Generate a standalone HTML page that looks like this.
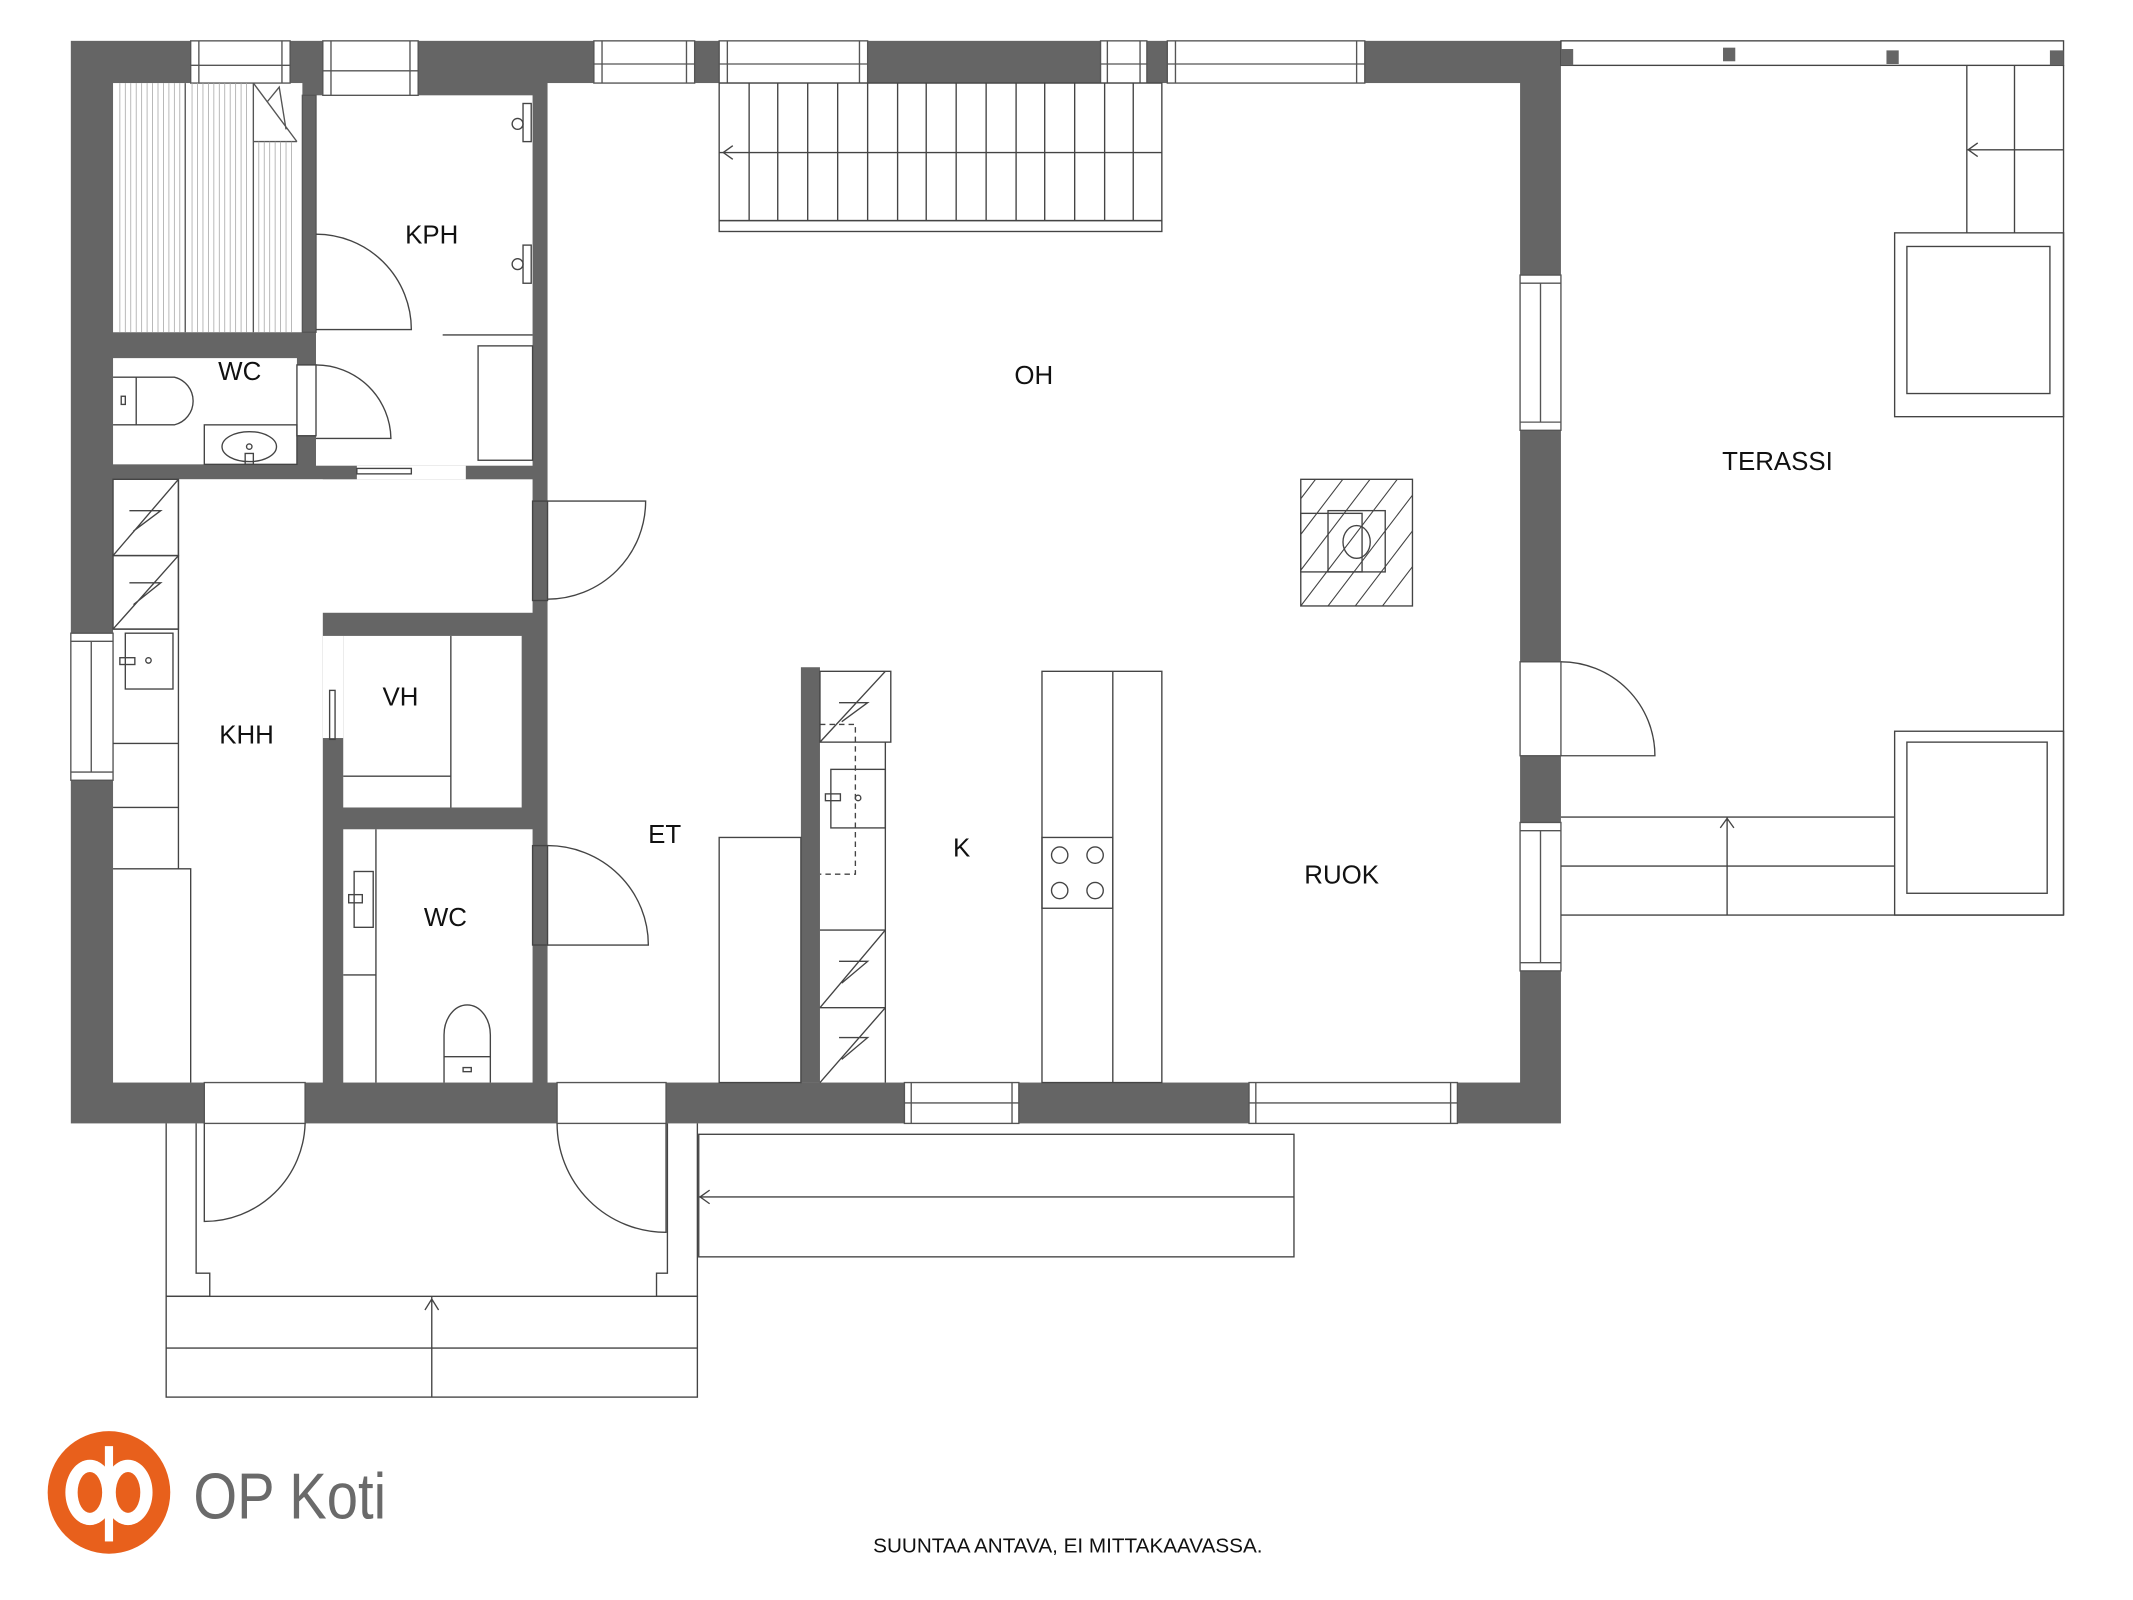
<!DOCTYPE html>
<html><head><meta charset="utf-8">
<style>
html,body{margin:0;padding:0;background:#fff;}
svg{display:block;}
text{font-family:"Liberation Sans",sans-serif;fill:#111;}
</style></head>
<body>
<svg width="2133" height="1600" viewBox="0 0 1566 1175" preserveAspectRatio="none" xmlns="http://www.w3.org/2000/svg">
<rect width="1570" height="1180" fill="#fff"/>
<rect x="52" y="30" width="1094" height="795" fill="#656565"/>
<g fill="#fff">
<rect x="83" y="61" width="139" height="183"/>
<rect x="232" y="70" width="159" height="272"/>
<rect x="83" y="263" width="135" height="78"/>
<rect x="83" y="352" width="308" height="98"/>
<rect x="83" y="352" width="154" height="443"/>
<rect x="252" y="467" width="131" height="126"/>
<rect x="252" y="609" width="139" height="186"/>
<rect x="402" y="61" width="714" height="734"/>
<rect x="218" y="268" width="14" height="52"/>
<rect x="262" y="342" width="80" height="10"/>
<rect x="237" y="467" width="15" height="75"/>
</g>
<rect x="588" y="490" width="14" height="305" fill="#656565"/>
<g fill="none" stroke="#555" stroke-width="1">
<rect x="140" y="30" width="73" height="31" fill="#fff"/><line x1="140" y1="48" x2="213" y2="48"/><line x1="146" y1="30" x2="146" y2="61"/><line x1="207" y1="30" x2="207" y2="61"/>
<rect x="237" y="30" width="70" height="40" fill="#fff"/><line x1="237" y1="52" x2="307" y2="52"/><line x1="243" y1="30" x2="243" y2="70"/><line x1="301" y1="30" x2="301" y2="70"/>
<rect x="436" y="30" width="74" height="31" fill="#fff"/><line x1="436" y1="47" x2="510" y2="47"/><line x1="442" y1="30" x2="442" y2="61"/><line x1="504" y1="30" x2="504" y2="61"/>
<rect x="528" y="30" width="109" height="31" fill="#fff"/><line x1="528" y1="47" x2="637" y2="47"/><line x1="534" y1="30" x2="534" y2="61"/><line x1="631" y1="30" x2="631" y2="61"/>
<rect x="808" y="30" width="34" height="31" fill="#fff"/><line x1="808" y1="47" x2="842" y2="47"/><line x1="813" y1="30" x2="813" y2="61"/><line x1="837" y1="30" x2="837" y2="61"/>
<rect x="857" y="30" width="145" height="31" fill="#fff"/><line x1="857" y1="47" x2="1002" y2="47"/><line x1="863" y1="30" x2="863" y2="61"/><line x1="996" y1="30" x2="996" y2="61"/>
<rect x="1116" y="202" width="30" height="114" fill="#fff"/><line x1="1131" y1="208" x2="1131" y2="310"/><line x1="1116" y1="208" x2="1146" y2="208"/><line x1="1116" y1="310" x2="1146" y2="310"/>
<rect x="1116" y="486" width="30" height="69" fill="#fff"/>
<rect x="1116" y="604" width="30" height="109" fill="#fff"/><line x1="1131" y1="610" x2="1131" y2="707"/><line x1="1116" y1="610" x2="1146" y2="610"/><line x1="1116" y1="707" x2="1146" y2="707"/>
<rect x="52" y="465" width="31" height="108" fill="#fff"/><line x1="67" y1="471" x2="67" y2="567"/><line x1="52" y1="471" x2="83" y2="471"/><line x1="52" y1="567" x2="83" y2="567"/>
<rect x="150" y="795" width="74" height="30" fill="#fff"/>
<rect x="409" y="795" width="80" height="30" fill="#fff"/>
<rect x="664" y="795" width="84" height="30" fill="#fff"/><line x1="664" y1="810" x2="748" y2="810"/><line x1="669" y1="795" x2="669" y2="825"/><line x1="743" y1="795" x2="743" y2="825"/>
<rect x="917" y="795" width="153" height="30" fill="#fff"/><line x1="917" y1="810" x2="1070" y2="810"/><line x1="922" y1="795" x2="922" y2="825"/><line x1="1065" y1="795" x2="1065" y2="825"/>
<line x1="136" y1="61" x2="136" y2="244"/><line x1="186" y1="61" x2="186" y2="244"/><line x1="186" y1="104" x2="218" y2="104"/>
<path d="M186 61 L218 104 M196 75 L205 64 L210 95"/>
<rect x="222" y="70" width="10" height="174"/>
</g>
<g stroke="#aaa" stroke-width="0.6">
<path d="M88 61V244M92 61V244M96 61V244M100 61V244M104 61V244M108 61V244M112 61V244M116 61V244M120 61V244M124 61V244M128 61V244M132 61V244M141 61V244M145 61V244M149 61V244M153 61V244M157 61V244M161 61V244M165 61V244M169 61V244M173 61V244M177 61V244M181 61V244M190 104V244M194 104V244M198 104V244M202 104V244M206 104V244M210 104V244M214 104V244"/>
</g>
<g fill="none" stroke="#444" stroke-width="1">
<path d="M232 172 A70 70 0 0 1 302 242 L232 242"/>
<path d="M232 268 A55 55 0 0 1 287 322 L232 322"/><rect x="218" y="268" width="14" height="52"/>
<line x1="325" y1="246" x2="391" y2="246"/><rect x="351" y="254" width="40" height="84"/>
<rect x="384" y="76" width="6" height="28"/><rect x="384" y="180" width="6" height="28"/>
<circle cx="380" cy="91" r="4"/><circle cx="380" cy="194" r="4"/>
<path d="M83 277 H128 A18 18 0 0 1 128 312 H83"/><line x1="100" y1="277" x2="100" y2="312"/><rect x="89" y="291" width="3" height="6"/>
<rect x="150" y="312" width="68" height="29"/><ellipse cx="183" cy="328" rx="20" ry="11"/><circle cx="183" cy="328" r="2"/><rect x="180" y="333" width="6" height="8"/>
<rect x="262" y="344" width="40" height="4"/>
<rect x="83" y="352" width="48" height="56"/><path d="M83 408 L131 352 M98 390 L118 375 L95 375"/>
<rect x="83" y="408" width="48" height="54"/><path d="M83 462 L131 408 M98 444 L118 428 L95 428"/>
<rect x="92" y="465" width="35" height="41"/><rect x="88" y="483" width="11" height="5"/><circle cx="109" cy="485" r="2"/>
<line x1="83" y1="462" x2="131" y2="462"/><line x1="131" y1="352" x2="131" y2="638"/>
<line x1="83" y1="546" x2="131" y2="546"/><line x1="83" y1="593" x2="131" y2="593"/>
<path d="M83 638 H140 V795"/>
<path d="M402 368 H474 A72 72 0 0 1 402 440"/><rect x="391" y="368" width="11" height="73"/>
<line x1="331" y1="467" x2="331" y2="593"/><line x1="252" y1="570" x2="331" y2="570"/>
<rect x="242" y="507" width="4" height="36"/>
<line x1="276" y1="609" x2="276" y2="795"/><line x1="252" y1="716" x2="276" y2="716"/>
<rect x="260" y="640" width="14" height="41"/><rect x="256" y="657" width="10" height="6"/>
<path d="M326 795 V760 A17 22 0 0 1 360 760 V795"/><line x1="326" y1="776" x2="360" y2="776"/><rect x="340" y="784" width="6" height="3"/>
<rect x="391" y="621" width="11" height="73"/><path d="M402 621 A74 73 0 0 1 476 694 H402"/>
<rect x="528" y="615" width="60" height="180"/>
<rect x="528" y="61" width="325" height="101" fill="#fff"/>
<line x1="528" y1="112" x2="853" y2="112"/>
<path d="M550 61V162M571 61V162M593 61V162M615 61V162M637 61V162M659 61V162M680 61V162M702 61V162M724 61V162M746 61V162M767 61V162M789 61V162M811 61V162M832 61V162"/>
<rect x="528" y="162" width="325" height="8"/>
<path d="M538 107 L531 112 L538 117"/>
<rect x="602" y="493" width="52" height="52"/><path d="M602 545 L650 493 M618 530 L637 516 L616 516"/>
<line x1="650" y1="545" x2="650" y2="795"/><line x1="602" y1="683" x2="650" y2="683"/><line x1="602" y1="740" x2="650" y2="740"/>
<path d="M602 740 L650 683 M618 722 L637 706 L616 706"/><path d="M602 795 L650 740 M618 778 L637 762 L616 762"/>
<rect x="610" y="565" width="40" height="43"/><rect x="606" y="583" width="11" height="5"/><circle cx="630" cy="586" r="2"/>
<path d="M602 532 H628 V642 H602" stroke-dasharray="4,3"/>
<rect x="765" y="493" width="88" height="302"/><line x1="817" y1="493" x2="817" y2="795"/>
<rect x="765" y="615" width="52" height="52"/>
<circle cx="778" cy="628" r="6"/><circle cx="804" cy="628" r="6"/><circle cx="778" cy="654" r="6"/><circle cx="804" cy="654" r="6"/>
<rect x="955" y="352" width="82" height="93"/>
<rect x="955" y="377" width="45" height="43"/><rect x="975" y="375" width="42" height="45"/>
<ellipse cx="996" cy="398" rx="10" ry="12"/>
</g>
<g stroke="#444" stroke-width="0.8" fill="none">
<clipPath id="fc"><rect x="955" y="352" width="82" height="93"/></clipPath>
<g clip-path="url(#fc)">
<path d="M935 445 L1015 340 M955 445 L1035 340 M975 445 L1055 340 M995 445 L1075 340 M1015 445 L1095 340 M915 445 L995 340 M895 445 L975 340"/>
</g>
</g>
<g fill="none" stroke="#444" stroke-width="1">
<rect x="1146" y="30" width="369" height="18" fill="#fff"/>
<line x1="1515" y1="48" x2="1515" y2="672"/>
<line x1="1146" y1="672" x2="1515" y2="672"/>
<path d="M1444 48 V171 M1479 48 V171 M1444 110 H1515 M1452 105 L1445 110 L1452 115"/>
<rect x="1391" y="171" width="124" height="135"/><rect x="1400" y="181" width="105" height="108"/>
<rect x="1391" y="537" width="124" height="135"/><rect x="1400" y="545" width="103" height="111"/>
<path d="M1146 600 H1391 M1146 636 H1391 M1268 600 V672 M1263 608 L1268 601 L1273 608"/>
<path d="M1146 486 A69 69 0 0 1 1215 555 H1146"/>
<path d="M122 825 V952 H154 V935 H144 V825"/>
<path d="M512 825 V952 H482 V935 H490 V825"/>
<path d="M150 825 V897 A74 74 0 0 0 224 825"/>
<path d="M489 825 V905 A80 80 0 0 1 409 825"/>
<rect x="122" y="952" width="390" height="74"/><line x1="122" y1="990" x2="512" y2="990"/>
<path d="M317 952 V1026 M312 962 L317 954 L322 962"/>
<rect x="513" y="833" width="437" height="90"/><line x1="513" y1="879" x2="950" y2="879"/>
<path d="M521 874 L514 879 L521 884"/>
</g>
<g fill="#656565">
<rect x="1146" y="36" width="9" height="12"/><rect x="1265" y="35" width="9" height="10"/><rect x="1385" y="37" width="9" height="10"/><rect x="1505" y="37" width="10" height="11"/>
</g>
<g font-size="19" text-anchor="middle">
<text x="317" y="179">KPH</text>
<text x="176" y="279">WC</text>
<text x="759" y="282">OH</text>
<text x="1305" y="345">TERASSI</text>
<text x="294" y="518">VH</text>
<text x="181" y="546">KHH</text>
<text x="488" y="619">ET</text>
<text x="706" y="629">K</text>
<text x="985" y="649">RUOK</text>
<text x="327" y="680">WC</text>
</g>
<text x="784" y="1140" font-size="15.2" text-anchor="middle">SUUNTAA ANTAVA, EI MITTAKAAVASSA.</text>
<circle cx="80" cy="1096" r="45" fill="#e8601c"/>
<ellipse cx="66" cy="1096" rx="18" ry="24" fill="#fff"/><ellipse cx="94" cy="1096" rx="18" ry="24" fill="#fff"/>
<ellipse cx="66" cy="1096" rx="9" ry="15" fill="#e8601c"/><ellipse cx="94" cy="1096" rx="9" ry="15" fill="#e8601c"/>
<rect x="77" y="1062" width="6" height="70" fill="#fff"/>
<text x="142" y="1115" font-size="48" style="fill:#6a6a6a" transform="translate(142 0) scale(0.86 1) translate(-142 0)">OP Koti</text>
</svg>
</body></html>
